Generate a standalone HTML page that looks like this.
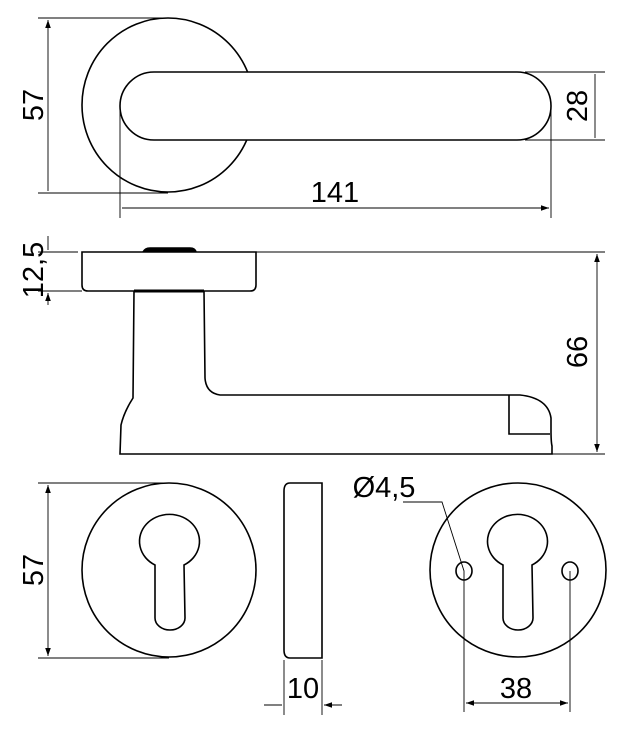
<!DOCTYPE html>
<html><head><style>html,body{margin:0;padding:0;background:#fff}svg{display:block}</style></head><body>
<svg width="624" height="739" viewBox="0 0 624 739" xmlns="http://www.w3.org/2000/svg" font-family="Liberation Sans, sans-serif">
<defs>
<marker id="a" viewBox="0 0 10 10" refX="10" refY="5" markerWidth="8" markerHeight="8" orient="auto-start-reverse" markerUnits="userSpaceOnUse"><path d="M0,1.5 L10,5 L0,8.5z" fill="#000"/></marker>
</defs>
<g fill="none" stroke="#000" stroke-width="1.6">
<ellipse cx="168" cy="105" rx="86" ry="87"/>
<path d="M154,72 H517 A34,34 0 0 1 517,140 H154 A34,34 0 0 1 154,72 Z" fill="#fff"/>
<path d="M84,252 H256 V285 Q256,291 250,291 H88 Q82,291 82,285 V252 Z"/>
<path d="M143,252 Q145,248 150,248 H190 Q195,248 196,252" fill="#000"/>
<path d="M134,291 H204" stroke-width="3"/>
<path d="M134,291 L133,398 Q124,412 121,425 L120,454 H552 L552,446 Q551,442 551,430 V418 Q548,398 520,395 H220 Q206,393 205,378 L204,291"/>
<path d="M509,395 V434 H550"/>
<ellipse cx="169" cy="570" rx="87" ry="87"/>
<path d="M155,565 A30,27 0 1 1 184,565 L185,618 A15,12 0 0 1 155,618 Z"/>
<path d="M290,483 H322 V658 H290 Q284,658 284,650 V491 Q284,483 290,483 Z"/>
<ellipse cx="518" cy="570" rx="88" ry="87"/>
<path d="M503,565 A30,27 0 1 1 532,565 L533,618 A15,12 0 0 1 503,618 Z"/>
<ellipse cx="464" cy="571" rx="8" ry="9"/>
<ellipse cx="570" cy="571" rx="8" ry="9"/>
</g>
<g fill="none" stroke="#000" stroke-width="0.9">
<path d="M38,18 H168 M38,193 H168 M120,110 V218 M551,105 V218 M525,72 H605 M525,140 H605"/>
<path d="M48,20 V191 M595,74 V138 M122,208 H549" marker-start="url(#a)" marker-end="url(#a)"/>
<path d="M38,252 H78 M256,252 H605 M38,291 H82 M552,454 H605"/>
<path d="M597,254 V452" marker-start="url(#a)" marker-end="url(#a)"/>
<path d="M48,236 V250 M48,305 V293" marker-end="url(#a)"/>
<path d="M38,483 H169 M38,658 H169"/>
<path d="M48,485 V656" marker-start="url(#a)" marker-end="url(#a)"/>
<path d="M284,660 V715 M322,660 V715"/>
<path d="M264,705 H282 M342,705 H324" marker-end="url(#a)"/>
<path d="M403,502 H442 L464,571 V712 M570,571 V712"/>
<path d="M466,703 H568" marker-start="url(#a)" marker-end="url(#a)"/>
</g>
<g font-size="29" fill="#000">
<text transform="translate(43,105) rotate(-90)" text-anchor="middle">57</text>
<text transform="translate(587,106) rotate(-90)" text-anchor="middle">28</text>
<text x="335" y="202" text-anchor="middle">141</text>
<text transform="translate(43,270) rotate(-90)" text-anchor="middle">12,5</text>
<text transform="translate(587,352) rotate(-90)" text-anchor="middle">66</text>
<text transform="translate(43,570) rotate(-90)" text-anchor="middle">57</text>
<text x="303" y="698" text-anchor="middle">10</text>
<text x="384" y="497" text-anchor="middle">Ø4,5</text>
<text x="516" y="698" text-anchor="middle">38</text>
</g>
</svg>
</body></html>
